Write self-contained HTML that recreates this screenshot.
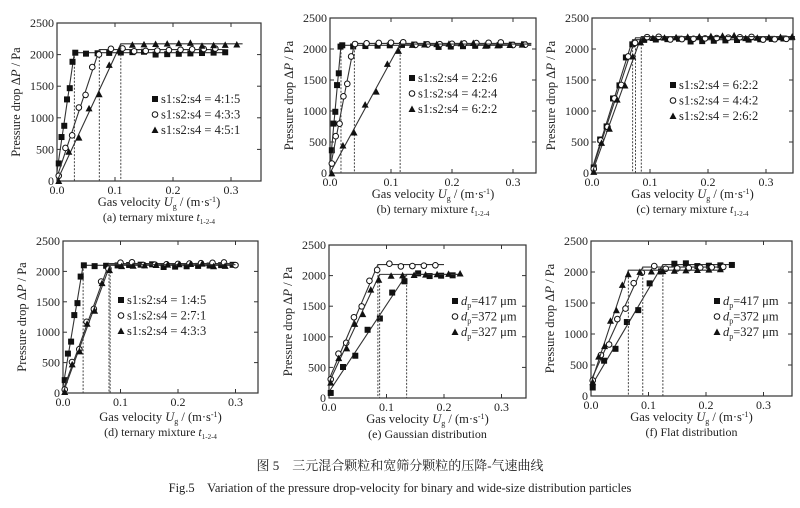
<!DOCTYPE html><html><head><meta charset="utf-8"><style>body{margin:0;background:#fff}svg{display:block}</style></head><body>
<svg id="s" width="800" height="508" xmlns="http://www.w3.org/2000/svg" font-family="Liberation Serif, serif" fill="#222"></svg>
<script>
const S=document.getElementById('s');let h='';
function P(o){const {L,T,R,B,px,lab,leg,lx,ly,ser,dl}=o;
 const X=u=>L+u*px*100, Y=p=>B-(B-T)*p/2500;
 h+=`<rect x="${L}" y="${T}" width="${R-L}" height="${B-T}" fill="none" stroke="#333" stroke-width="1.2"/>`;
 for(let i=0;i<=5;i++){const y=Y(i*500);h+=`<line x1="${L}" x2="${L+4}" y1="${y}" y2="${y}" stroke="#333"/><line x1="${R}" x2="${R-4}" y1="${y}" y2="${y}" stroke="#333"/><text x="${L-3}" y="${y+4}" font-size="12" text-anchor="end">${i*500}</text>`;}
 for(let i=0;i<=3;i++){const x=X(i*0.1);h+=`<line x1="${x}" x2="${x}" y1="${B}" y2="${B-4}" stroke="#333"/><line x1="${x}" x2="${x}" y1="${T}" y2="${T+4}" stroke="#333"/><text x="${x}" y="${B+13}" font-size="12" text-anchor="middle">${(i/10).toFixed(1)}</text>`;}
 const cx=(L+R)/2, cy=(T+B)/2, d=dl||0;
 h+=`<text transform="translate(${L-37},${cy}) rotate(-90)" font-size="12.5" text-anchor="middle">Pressure drop Δ<tspan font-style="italic">P</tspan> / Pa</text>`;
 h+=`<text x="${cx}" y="${B+25+d}" font-size="12.5" text-anchor="middle">Gas velocity <tspan font-style="italic">U</tspan><tspan font-size="8" dy="3">g</tspan><tspan dy="-3"> / (m·s</tspan><tspan font-size="8" dy="-4">-1</tspan><tspan dy="4">)</tspan></text>`;
 h+=`<text x="${cx}" y="${B+40+d}" font-size="12" text-anchor="middle">${lab}</text>`;
 ser.forEach((s,k)=>{const [y0,um,pl,end,m]=s;
  h+=`<polyline points="${X(0)},${Y(y0)} ${X(um)},${Y(pl)} ${X(end)},${Y(pl)}" fill="none" stroke="#333" stroke-width="1.1"/>`;
  h+=`<line x1="${X(um)}" x2="${X(um)}" y1="${Y(pl)}" y2="${B}" stroke="#444" stroke-dasharray="2,1.5"/>`;
  const n=6;for(let i=0;i<=n;i++){const u=um*i/n*0.95+0.003;const p=y0+(pl-y0)*(u/um)+(i%2?60:-60);mk(m,X(u),Y(Math.min(p,pl)));}
  for(let u=um+0.02;u<=end;u+=0.02){mk(m,X(u),Y(pl-30+(k*13+u*300)%50));}
  const yy=ly+k*15.5;mk(m,lx,yy-4);h+=`<text x="${lx+6}" y="${yy}" font-size="12.5">${leg[k]}</text>`;
 });}
function mk(m,x,y){if(m==0)h+=`<rect x="${x-3}" y="${y-3}" width="6" height="6" fill="#111"/>`;else if(m==1)h+=`<circle cx="${x}" cy="${y}" r="2.8" fill="#fff" stroke="#111"/>`;else h+=`<polygon points="${x},${y-3.5} ${x-3.5},${y+3} ${x+3.5},${y+3}" fill="#111"/>`;}
const dp=v=>`<tspan font-style="italic">d</tspan><tspan font-size="8" dy="3">p</tspan><tspan dy="-3">=${v} μm</tspan>`;
const tm=c=>`(${c}) ternary mixture <tspan font-style="italic">t</tspan><tspan font-size="7" dy="3">1-2-4</tspan>`;
P({L:57,T:23,R:261,B:181,px:5.8,lab:tm('a'),lx:155,ly:103,leg:['s1:s2:s4 = 4:1:5','s1:s2:s4 = 4:3:3','s1:s2:s4 = 4:5:1'],ser:[[150,0.03,2030,0.29,0],[60,0.073,2080,0.29,1],[0,0.11,2170,0.32,2]]});
P({L:330,T:18,R:536,B:173,px:6.1,lab:tm('b'),lx:412,ly:82,leg:['s1:s2:s4 = 2:2:6','s1:s2:s4 = 4:2:4','s1:s2:s4 = 6:2:2'],ser:[[100,0.018,2060,0.33,0],[60,0.04,2090,0.33,1],[0,0.115,2080,0.33,2]]});
P({L:592,T:18,R:793,B:173,px:5.8,lab:tm('c'),lx:673,ly:89,leg:['s1:s2:s4 = 6:2:2','s1:s2:s4 = 4:4:2','s1:s2:s4 = 2:6:2'],ser:[[60,0.07,2150,0.35,0],[40,0.075,2180,0.35,1],[0,0.085,2200,0.35,2]]});
P({L:63,T:241,R:258,B:393,px:5.75,dl:3,lab:tm('d'),lx:121,ly:304,leg:['s1:s2:s4 = 1:4:5','s1:s2:s4 = 2:7:1','s1:s2:s4 = 4:3:3'],ser:[[100,0.035,2100,0.3,0],[40,0.08,2130,0.3,1],[0,0.082,2110,0.3,2]]});
P({L:329,T:245,R:526,B:398,px:5.75,lab:'(e) Gaussian distribution',lx:455,ly:305,leg:[dp(417),dp(372),dp(327)],ser:[[100,0.135,2020,0.23,0],[300,0.085,2180,0.2,1],[250,0.088,2020,0.23,2]]});
P({L:591,T:241,R:792,B:396,px:5.75,lab:'(f) Flat distribution',lx:717,ly:305,leg:[dp(417),dp(372),dp(327)],ser:[[150,0.125,2120,0.25,0],[250,0.09,2080,0.23,1],[200,0.065,2030,0.23,2]]});
h+=`<text x="400" y="470" font-size="13" text-anchor="middle" font-family="Liberation Serif, Noto Serif CJK SC, serif">图 5　三元混合颗粒和宽筛分颗粒的压降-气速曲线</text>`;
h+=`<text x="400" y="492" font-size="12.5" text-anchor="middle">Fig.5　Variation of the pressure drop-velocity for binary and wide-size distribution particles</text>`;
S.innerHTML=h;
</script></body></html>
